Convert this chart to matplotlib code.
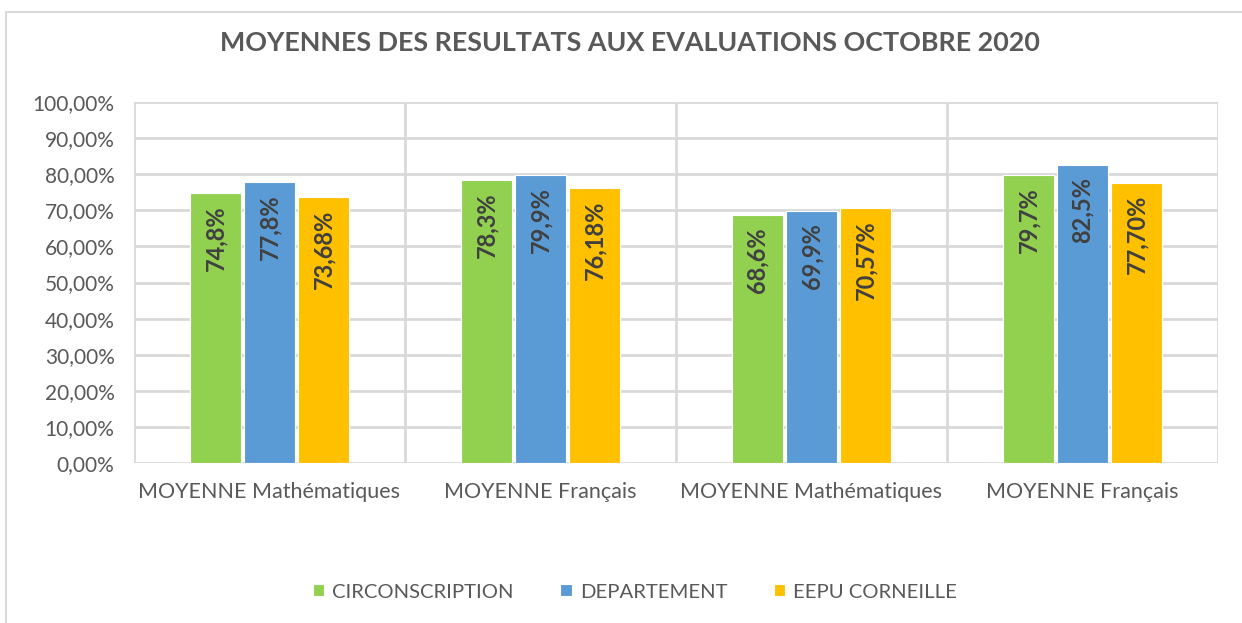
import numpy as np
import matplotlib
matplotlib.use("Agg")
import matplotlib.pyplot as plt
from matplotlib.patches import Rectangle

plt.rcParams["font.family"] = ["Lato", "DejaVu Sans"]

# données
categories = ["MOYENNE Mathématiques", "MOYENNE Français",
              "MOYENNE Mathématiques", "MOYENNE Français"]
series = ["CIRCONSCRIPTION", "DEPARTEMENT", "EEPU CORNEILLE"]
circ = [74.8, 78.3, 68.6, 79.7]
dep = [77.8, 79.9, 69.9, 82.5]
eepu = [73.68, 76.18, 70.57, 77.70]
circ_lbl = ["74,8%", "78,3%", "68,6%", "79,7%"]
dep_lbl = ["77,8%", "79,9%", "69,9%", "82,5%"]
eepu_lbl = ["73,68%", "76,18%", "70,57%", "77,70%"]
y_ticks = list(range(0, 101, 10))

colors = ["#92d050", "#5b9bd5", "#ffc000"]
grid_col = "#d9d9d9"
txt_col = "#595959"

fig = plt.figure(figsize=(12.42, 6.23), dpi=100)
# cadre du graphique
fig.patches.append(Rectangle((6 / 1242, -0.01), 1.0, 1 - 12 / 623 + 0.01,
                             transform=fig.transFigure, fill=False,
                             edgecolor=grid_col, linewidth=1.5))

ax = fig.add_axes([134 / 1242, 1 - 463 / 623, (1218 - 134) / 1242, (463 - 102) / 623])

x = np.arange(len(categories))
w = 0.19
step = 0.2
data = [circ, dep, eepu]
labels = [circ_lbl, dep_lbl, eepu_lbl]
for i, (vals, lbls) in enumerate(zip(data, labels)):
    pos = x + (i - 1) * step
    ax.bar(pos, vals, width=w, color=colors[i], label=series[i], zorder=3,
           edgecolor="white", linewidth=0.8)
    for p, v, l in zip(pos, vals, lbls):
        ax.text(p, v - 3.4, l, rotation=90, ha="center", va="top",
                fontsize=17, fontweight="bold", color="#404040", zorder=4)

ax.set_xlim(-0.5, len(categories) - 0.5)
ax.set_ylim(0, 100)
ax.set_yticks(y_ticks)
ax.set_yticklabels(["{:.2f}%".format(t).replace(".", ",") for t in y_ticks])
ax.set_xticks(x)
ax.set_xticklabels(categories)
# lignes verticales entre catégories
for b in np.arange(-0.5, len(categories), 1):
    ax.axvline(b, color=grid_col, linewidth=2, zorder=1)
ax.yaxis.grid(True, color=grid_col, linewidth=2, zorder=1)
for s in ax.spines.values():
    s.set_visible(False)
ax.tick_params(axis="y", length=0, labelsize=15, colors=txt_col, pad=14)
ax.tick_params(axis="x", length=0, labelsize=15.5, colors=txt_col, pad=14)

fig.text(630 / 1242, 1 - 43 / 623, "MOYENNES DES RESULTATS AUX EVALUATIONS OCTOBRE 2020",
         ha="center", va="center", fontsize=19.4, fontweight="bold", color=txt_col)

fig.legend(loc="center", bbox_to_anchor=(635 / 1242, 1 - 592 / 623), ncol=3,
           frameon=False, fontsize=14.6, handlelength=0.55, handleheight=0.55,
           handletextpad=0.4, columnspacing=2.3, labelcolor=txt_col)

fig.savefig("out.png", dpi=100, facecolor="white")
